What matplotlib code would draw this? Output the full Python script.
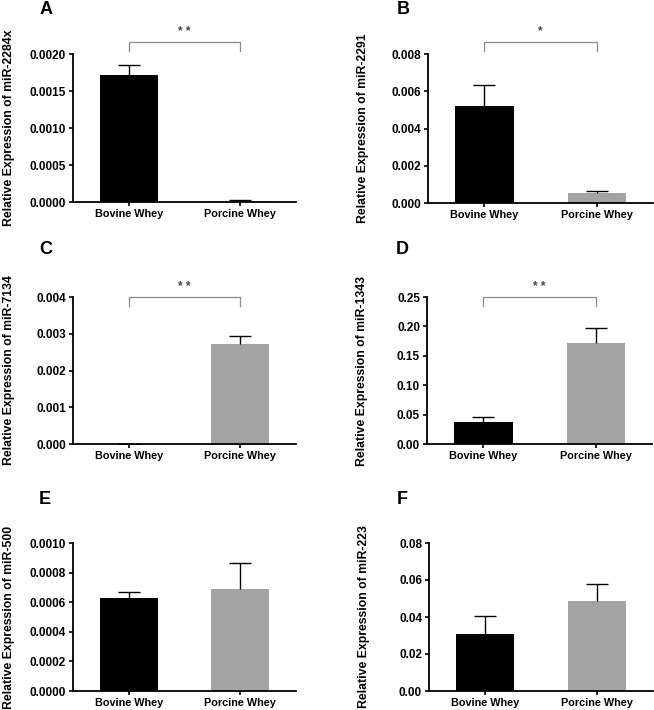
import numpy as np
import matplotlib.pyplot as plt

plt.rcParams['font.family'] = 'Liberation Sans'
plt.rcParams['font.weight'] = 'bold'

groups = ['Bovine Whey', 'Porcine Whey']
letters = ['A', 'B', 'C', 'D', 'E', 'F']
mirnas = ['miR-2284x', 'miR-2291', 'miR-7134', 'miR-1343', 'miR-500', 'miR-223']
means = [[0.00172, 0.00002], [0.00521, 0.00056], [0.0, 0.00271],
         [0.0367, 0.172], [0.000629, 0.000692], [0.0307, 0.0484]]
errs = [[0.00013, 0.000003], [0.00114, 0.00011], [0.0, 0.00022],
        [0.009, 0.026], [0.000043, 0.00017], [0.0099, 0.0094]]
ymax = [0.002, 0.008, 0.004, 0.25, 0.001, 0.08]
ystep = [0.0005, 0.002, 0.001, 0.05, 0.0002, 0.02]
yfmt = ['%.4f', '%.3f', '%.3f', '%.2f', '%.4f', '%.2f']
signif = ['* *', '*', '* *', '* *', '', '']
bracket_y = [1.08, 1.08, 1.0, 1.0, None, None]

colors = ['black', '#a3a3a3']

fig = plt.figure(figsize=(6.54, 7.10), dpi=100)
W, H = 654, 710
# left px, top px of each axes
lefts = [73, 428, 73, 427, 73, 429]
tops = [54, 54, 297, 297, 543, 543]
bottoms = [202, 203, 444, 444, 691, 691]
widths = [223, 225, 223, 225, 223, 224]

for i in range(6):
    ax = fig.add_axes([lefts[i] / W, 1 - bottoms[i] / H,
                       widths[i] / W, (bottoms[i] - tops[i]) / H])
    x = np.arange(2)
    ax.bar(x, means[i], width=0.52, color=colors, edgecolor=colors, linewidth=0)
    eb = ax.errorbar(x, means[i], yerr=[[0, 0], errs[i]], fmt='none', ecolor='black',
                     elinewidth=1.0, capsize=8, capthick=1.0)
    eb[1][0].set_visible(False)  # no cap at the bar top
    ax.set_xlim(-0.5, 1.5)
    ax.set_ylim(0, ymax[i])
    ax.set_yticks(np.arange(0, ymax[i] + ystep[i] / 2, ystep[i]))
    ax.yaxis.set_major_formatter(plt.FormatStrFormatter(yfmt[i]))
    ax.set_xticks(x)
    ax.set_xticklabels(groups, fontsize=7.8, fontweight='bold')
    for lab in ax.get_yticklabels():
        lab.set_fontsize(8.5)
        lab.set_fontweight('bold')
    ax.spines['top'].set_visible(False)
    ax.spines['right'].set_visible(False)
    ax.spines['left'].set_linewidth(1.3)
    ax.spines['bottom'].set_linewidth(1.3)
    ax.tick_params(direction='out', length=3, width=1.2, pad=2)
    ax.set_ylabel('Relative Expression of ' + mirnas[i], fontsize=8.8, fontweight='bold')
    ax.yaxis.set_label_coords(-0.262, 0.5)

    if signif[i]:
        trans = ax.get_xaxis_transform()
        by = bracket_y[i]
        ax.plot([0, 0, 1, 1], [by - 0.06, by, by, by - 0.06], color='#8c8c8c',
                linewidth=0.9, transform=trans, clip_on=False)
        ax.text(0.5, by + 0.03, signif[i], transform=trans, ha='center',
                va='bottom', fontsize=8.5, color='#444444')

    # panel letter
    lx = [40, 397, 39, 396, 39, 397][i]
    ly = [9, 9, 249, 249, 499, 499][i]
    fig.text(lx / W, 1 - ly / H, letters[i], fontsize=13, fontweight='bold',
             ha='left', va='center')

fig.savefig('out.png', dpi=100)
